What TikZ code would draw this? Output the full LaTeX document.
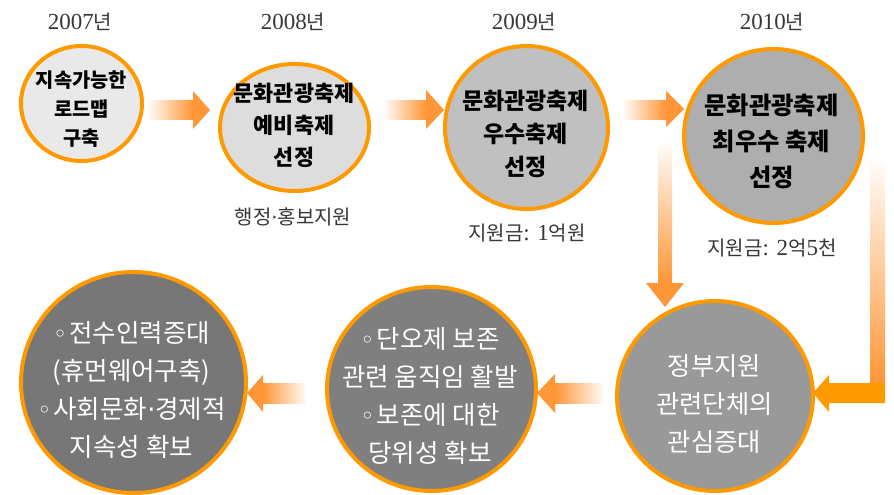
\documentclass[tikz,border=0pt]{standalone}
\usepackage{fontspec}
\setmainfont{Noto Sans CJK KR}
\newfontfamily\symfnt{DejaVu Sans}
\newfontfamily\sernumf{Liberation Serif}
\newcommand{\sernum}{\sernumf\fontsize{23}{22}\selectfont}
\usetikzlibrary{shapes.geometric}
\definecolor{ringor}{RGB}{255,153,0}
\definecolor{arrowor}{RGB}{255,150,55}
\definecolor{labgray}{RGB}{55,55,55}
\newcommand{\wb}{{\symfnt\fontsize{24}{24}\selectfont ◦}\hspace{2pt}}
\newcommand{\mdot}{{\symfnt ·}}
\tikzset{
  ring/.style={ellipse, draw=ringor, line width=4pt, inner sep=0pt},
  ctext/.style={align=center, inner sep=0pt},
  yearlab/.style={text=labgray, font=\fontsize{20}{22}\selectfont, inner sep=0pt},
  shaftR/.style={left color=white, right color=arrowor},
  shaftL/.style={left color=arrowor, right color=white},
  shaftD/.style={top color=white, bottom color=arrowor},
}
\begin{document}
\begin{tikzpicture}[x=1pt,y=-1pt]
\useasboundingbox (0,0) rectangle (894,495);

% circles
\node[ring, fill={rgb,255:red,233;green,233;blue,233}, minimum width=121pt, minimum height=115pt] (c1) at (81.5,103.5) {};
\node[ring, fill={rgb,255:red,221;green,221;blue,221}, minimum width=149pt, minimum height=127pt] (c2) at (294.5,127.5) {};
\node[ring, fill={rgb,255:red,192;green,192;blue,192}, minimum width=163pt, minimum height=163pt] (c3) at (526.5,127.5) {};
\node[ring, fill={rgb,255:red,174;green,174;blue,174}, minimum width=179pt, minimum height=174pt] (c4) at (773.5,136) {};
\node[ring, fill={rgb,255:red,153;green,153;blue,153}, minimum width=196pt, minimum height=190pt] (c5) at (715,396) {};
\node[ring, fill={rgb,255:red,127;green,127;blue,127}, minimum width=209pt, minimum height=204pt] (c6) at (431.5,389) {};
\node[ring, fill={rgb,255:red,119;green,119;blue,119}, minimum width=225pt, minimum height=221pt] (c7) at (133.5,382.5) {};

% circle texts
\node[ctext, font=\bfseries\fontsize{19.8}{29}\selectfont] (t1) at (81.5,109) {지속가능한\\로드맵\\구축};
\node[ctext, font=\bfseries\fontsize{21.8}{32}\selectfont] (t2) at (294,125) {문화관광축제\\예비축제\\선정};
\node[ctext, font=\bfseries\fontsize{23}{33}\selectfont] (t3) at (525.5,133.5) {문화관광축제\\우수축제\\선정};
\node[ctext, font=\bfseries\fontsize{24.3}{36}\selectfont] (t4) at (771.5,141) {문화관광축제\\최우수 축제\\선정};
\node[ctext, text=white, font=\fontsize{25.3}{38}\selectfont] (t5) at (714.5,404) {정부지원\\관련단체의\\관심증대};
\node[ctext, text=white, font=\fontsize{25.5}{38}\selectfont] (t6) at (430,395.5) {\wb 단오제 보존\\관련 움직임 활발\\\wb 보존에 대한\\당위성 확보};
\node[ctext, text=white, font=\fontsize{25.5}{38}\selectfont] (t7) at (131.5,390) {\wb 전수인력증대\\(휴먼웨어구축)\\\wb 사회문화\mdot 경제적\\지속성 확보};

% year labels
\node[yearlab] (y1) at (80,22) {{\sernum 2007}년};
\node[yearlab] (y2) at (293,22) {{\sernum 2008}년};
\node[yearlab] (y3) at (524,22) {{\sernum 2009}년};
\node[yearlab] (y4) at (772,22) {{\sernum 2010}년};
\node[yearlab] (s2) at (293,217) {행정\mdot 홍보지원};
\node[yearlab] (s3) at (527,233) {지원금{\sernum : 1}억원};
\node[yearlab] (s4) at (772,248) {지원금{\sernum : 2}억{\sernum 5}천};

% arrow c1 -> c2
\coordinate (a1tip) at (210,110);
\shade[shaftR] (147,100) rectangle (193,119);
\fill[arrowor] (193,91) -- (a1tip) -- (193,129) -- cycle;
% arrow c2 -> c3
\coordinate (a2tip) at (444,110);
\shade[shaftR] (383,100) rectangle (426,119);
\fill[arrowor] (426,90) -- (a2tip) -- (426,129) -- cycle;
% arrow c3 -> c4
\coordinate (a3tip) at (684,109);
\shade[shaftR] (622,100) rectangle (666,119);
\fill[arrowor] (666,91) -- (a3tip) -- (666,127) -- cycle;
% arrow down to c5
\coordinate (a4tip) at (665,307);
\shade[shaftD] (658,140) rectangle (672,283);
\fill[arrowor] (646,283) -- (a4tip) -- (684,283) -- cycle;
% L arrow from c4 to c5
\coordinate (a5tip) at (813,393);
\shade[shaftD] (870,155) rectangle (885,384);
\fill[ringor] (885,383) -- (885,403) -- (829,403) -- (829,412) -- (a5tip) -- (829,375) -- (829,383) -- cycle;
% arrow c5 -> c6
\coordinate (a6tip) at (537,393);
\shade[shaftL] (555,383) rectangle (605,403);
\fill[arrowor] (555,374) -- (a6tip) -- (555,413) -- cycle;
% arrow c6 -> c7
\coordinate (a7tip) at (247,393);
\shade[shaftL] (263,383) rectangle (307,403);
\fill[arrowor] (263,375) -- (a7tip) -- (263,412) -- cycle;
\end{tikzpicture}
\end{document}
